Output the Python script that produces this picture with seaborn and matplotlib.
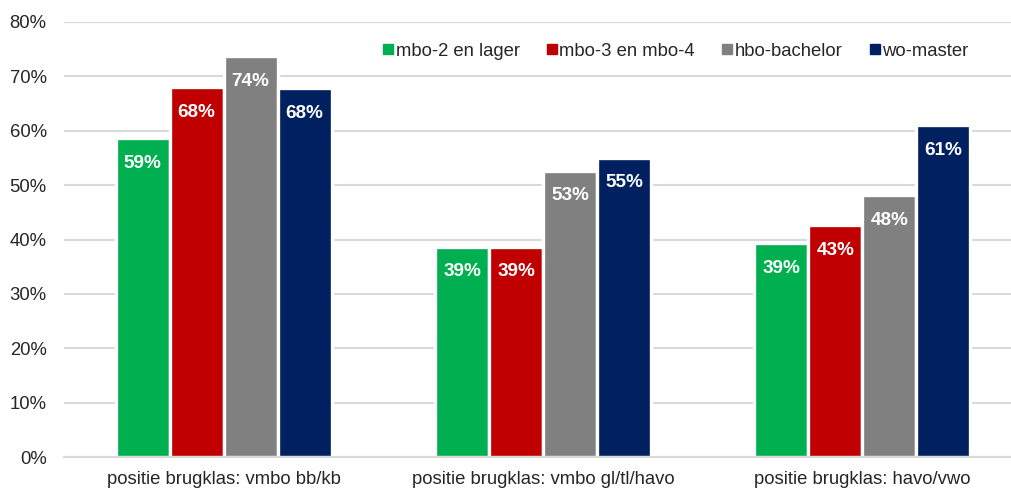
import matplotlib
matplotlib.use("Agg")
import matplotlib.pyplot as plt
import pandas as pd
import seaborn as sns
from matplotlib.lines import Line2D
from matplotlib.ticker import PercentFormatter

groups = ["positie brugklas: vmbo bb/kb", "positie brugklas: vmbo gl/tl/havo", "positie brugklas: havo/vwo"]
levels = ["mbo-2 en lager", "mbo-3 en mbo-4", "hbo-bachelor", "wo-master"]
colors = ["#00b050", "#c00000", "#808080", "#002060"]

mbo2 = [0.586, 0.386, 0.393]
mbo34 = [0.680, 0.386, 0.426]
hbo = [0.737, 0.526, 0.481]
wo = [0.678, 0.550, 0.610]

rows = []
for lvl, vals in zip(levels, [mbo2, mbo34, hbo, wo]):
    for g, v in zip(groups, vals):
        rows.append({"groep": g, "niveau": lvl, "aandeel": v})
df = pd.DataFrame(rows)

sns.set_theme(style="white")
plt.rcParams["font.family"] = ["Liberation Sans", "DejaVu Sans"]
FS = 13.3

fig = plt.figure(figsize=(10.11, 4.88), dpi=100)
ax = fig.add_axes([64 / 1011, 31 / 488, 958 / 1011, 435 / 488])

sns.barplot(data=df, x="groep", y="aandeel", hue="niveau", order=groups,
            hue_order=levels, palette=colors, width=0.676, saturation=1,
            edgecolor="white", linewidth=2.4, errorbar=None, legend=False, ax=ax)

for cont in ax.containers:
    labels = [f"{v * 100:.0f}%" for v in cont.datavalues]
    ax.bar_label(cont, labels=labels, padding=-24, color="white",
                 fontsize=FS + 0.3, fontweight="bold")

ax.set_xlim(-0.5, 2.5)
ax.set_ylim(0, 0.8)
ax.set_yticks([i / 10 for i in range(9)])
ax.yaxis.set_major_formatter(PercentFormatter(1.0, decimals=0))
ax.yaxis.grid(True, color="#d9d9d9", linewidth=1.5)
ax.set_axisbelow(True)
for side in ["top", "right", "left"]:
    ax.spines[side].set_visible(False)
ax.spines["bottom"].set_color("#d9d9d9")
ax.spines["bottom"].set_linewidth(1.5)
ax.tick_params(axis="y", length=0, pad=12.5, labelsize=FS, labelcolor="#262626")
ax.tick_params(axis="x", length=0, pad=10, labelsize=FS, labelcolor="#262626")
ax.set_xlabel("")
ax.set_ylabel("")

handles = [Line2D([], [], marker="s", linestyle="", markersize=7.5, color=c) for c in colors]
ax.legend(handles, levels, ncol=4, frameon=False, fontsize=FS,
          loc="center left", bbox_to_anchor=(302 / 958, 1 - 29 / 435),
          handletextpad=0.1, columnspacing=1.45, handlelength=0.6)

fig.savefig("out.png", dpi=100)
